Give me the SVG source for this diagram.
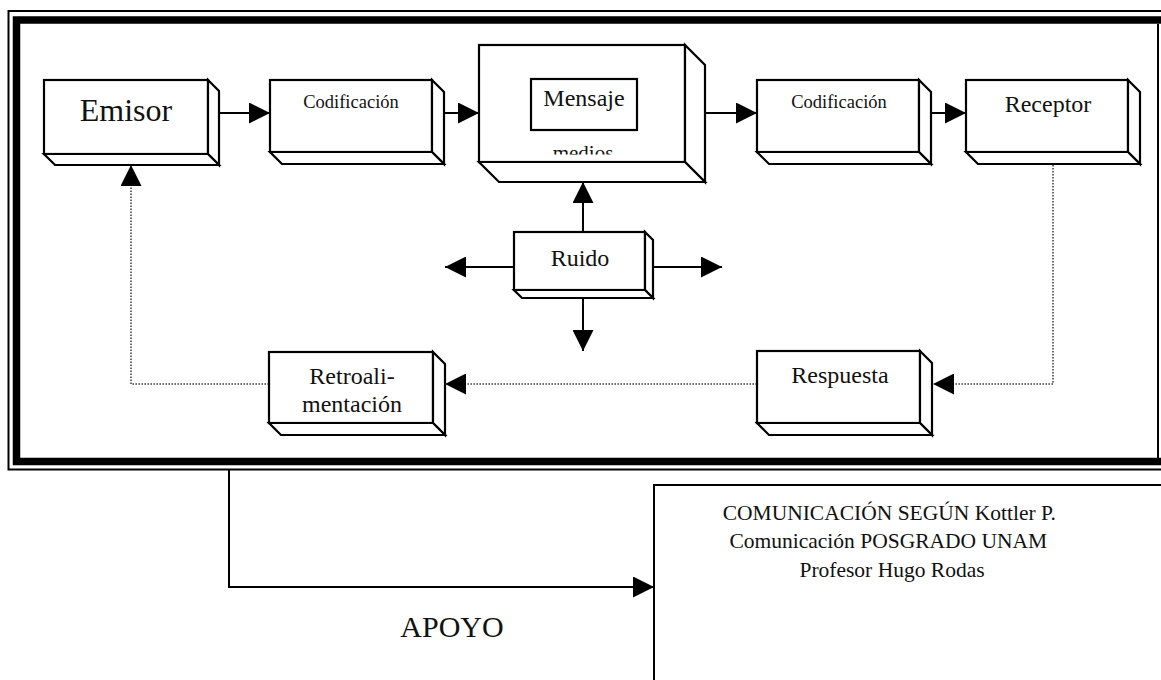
<svg xmlns="http://www.w3.org/2000/svg" width="1161" height="680" viewBox="0 0 1161 680">
  <defs>
    <marker id="arrow" markerUnits="userSpaceOnUse" markerWidth="21" markerHeight="21" refX="21" refY="10.5" orient="auto" viewBox="0 0 21 21">
      <path d="M0,0 L21,10.5 L0,21 z" fill="#000"/>
    </marker>
    <clipPath id="medios-clip">
      <rect x="481" y="47" width="202" height="107.5"/>
    </clipPath>
  </defs>
  <style>
    .face { fill: #fff; stroke: #000; stroke-width: 2.2; stroke-linejoin: miter; }
    .lbl { font-family: "Liberation Serif", "Times New Roman", serif; fill: #111; text-anchor: middle; }
    .solid { fill: none; stroke: #000; stroke-width: 2; }
    .dotted { fill: none; stroke: #444; stroke-width: 1.6; stroke-dasharray: 1.6 1.4; }
    .thin { fill: none; stroke: #000; stroke-width: 2; }
    .band { fill: none; stroke: #000; stroke-width: 7.5; }
  </style>

  <rect width="1161" height="680" fill="#fff"/>

  <!-- outer frame: thin outer rule with a thick inner rule -->
  <g id="frame">
    <path class="thin" d="M1161,11 H8.5 V469.5 H1161"/>
    <path class="band" d="M1161,20 H16.5 V461.5 H1161"/>
    <path class="thin" d="M1158,24 V458"/>
  </g>

  <!-- connectors -->
  <g id="connectors">
    <path class="solid" d="M219,113 H270" marker-end="url(#arrow)"/>
    <path class="solid" d="M444,113 H479" marker-end="url(#arrow)"/>
    <path class="solid" d="M705,113 H757" marker-end="url(#arrow)"/>
    <path class="solid" d="M931,113 H966" marker-end="url(#arrow)"/>
    <path class="solid" d="M583,232 V182" marker-end="url(#arrow)"/>
    <path class="solid" d="M514,267 H445" marker-end="url(#arrow)"/>
    <path class="solid" d="M653,267 H722" marker-end="url(#arrow)"/>
    <path class="solid" d="M583,298 V351" marker-end="url(#arrow)"/>
    <path class="dotted" d="M1053,165 V384 H933" marker-end="url(#arrow)"/>
    <path class="dotted" d="M757,384 H445" marker-end="url(#arrow)"/>
    <path class="dotted" d="M269,384 H131 V165" marker-end="url(#arrow)"/>
    <path class="solid" d="M229,470 V587 H654" marker-end="url(#arrow)"/>
  </g>

  <g id="emisor">
    <rect class="face" x="44" y="80" width="164" height="74"/>
    <polygon class="face" points="208,80 219,91 219,165 208,154"/>
    <polygon class="face" points="44,154 208,154 219,165 55,165"/>
    <text class="lbl" x="126" y="121" font-size="32">Emisor</text>
  </g>

  <g id="codificacion-1">
    <rect class="face" x="270" y="80" width="162" height="72"/>
    <polygon class="face" points="432,80 444,92 444,164 432,152"/>
    <polygon class="face" points="270,152 432,152 444,164 282,164"/>
    <text class="lbl" x="351" y="108" font-size="18.5">Codificación</text>
  </g>

  <g id="mensaje-medios">
    <rect class="face" x="479" y="45" width="206" height="117"/>
    <polygon class="face" points="685,45 705,65 705,182 685,162"/>
    <polygon class="face" points="479,162 685,162 705,182 499,182"/>
    <rect class="face" x="531" y="79" width="106" height="51"/>
    <text class="lbl" x="584" y="106" font-size="24">Mensaje</text>
    <text class="lbl" x="583" y="160" font-size="21" clip-path="url(#medios-clip)">medios</text>
  </g>

  <g id="codificacion-2">
    <rect class="face" x="757" y="80" width="162" height="72"/>
    <polygon class="face" points="919,80 931,92 931,164 919,152"/>
    <polygon class="face" points="757,152 919,152 931,164 769,164"/>
    <text class="lbl" x="839" y="108" font-size="18.5">Codificación</text>
  </g>

  <g id="receptor">
    <rect class="face" x="966" y="80" width="162" height="72"/>
    <polygon class="face" points="1128,80 1140,92 1140,164 1128,152"/>
    <polygon class="face" points="966,152 1128,152 1140,164 978,164"/>
    <text class="lbl" x="1048" y="112" font-size="24">Receptor</text>
  </g>

  <g id="ruido">
    <rect class="face" x="514" y="232" width="131" height="58"/>
    <polygon class="face" points="645,232 653,240 653,298 645,290"/>
    <polygon class="face" points="514,290 645,290 653,298 522,298"/>
    <text class="lbl" x="580" y="266" font-size="24">Ruido</text>
  </g>

  <g id="retroalimentacion">
    <rect class="face" x="269" y="352" width="164" height="71"/>
    <polygon class="face" points="433,352 445,364 445,435 433,423"/>
    <polygon class="face" points="269,423 433,423 445,435 281,435"/>
    <text class="lbl" x="352" y="384" font-size="24">Retroali-</text>
    <text class="lbl" x="352" y="412" font-size="24">mentación</text>
  </g>

  <g id="respuesta">
    <rect class="face" x="757" y="351" width="163" height="72"/>
    <polygon class="face" points="920,351 932,363 932,435 920,423"/>
    <polygon class="face" points="757,423 920,423 932,435 769,435"/>
    <text class="lbl" x="840" y="383" font-size="24">Respuesta</text>
  </g>

  <g id="apoyo">
    <text class="lbl" x="452" y="637" font-size="30">APOYO</text>
  </g>

  <g id="creditos">
    <rect x="654" y="485" width="520" height="210" fill="#fff" stroke="#000" stroke-width="2"/>
    <text class="lbl" font-size="21.5">
      <tspan x="892" y="520">COMUNICACIÓN SEGÚN Kottler P.</tspan>
      <tspan x="891" y="548">Comunicación POSGRADO UNAM</tspan>
      <tspan x="892" y="577">Profesor Hugo Rodas</tspan>
    </text>
  </g>
</svg>
